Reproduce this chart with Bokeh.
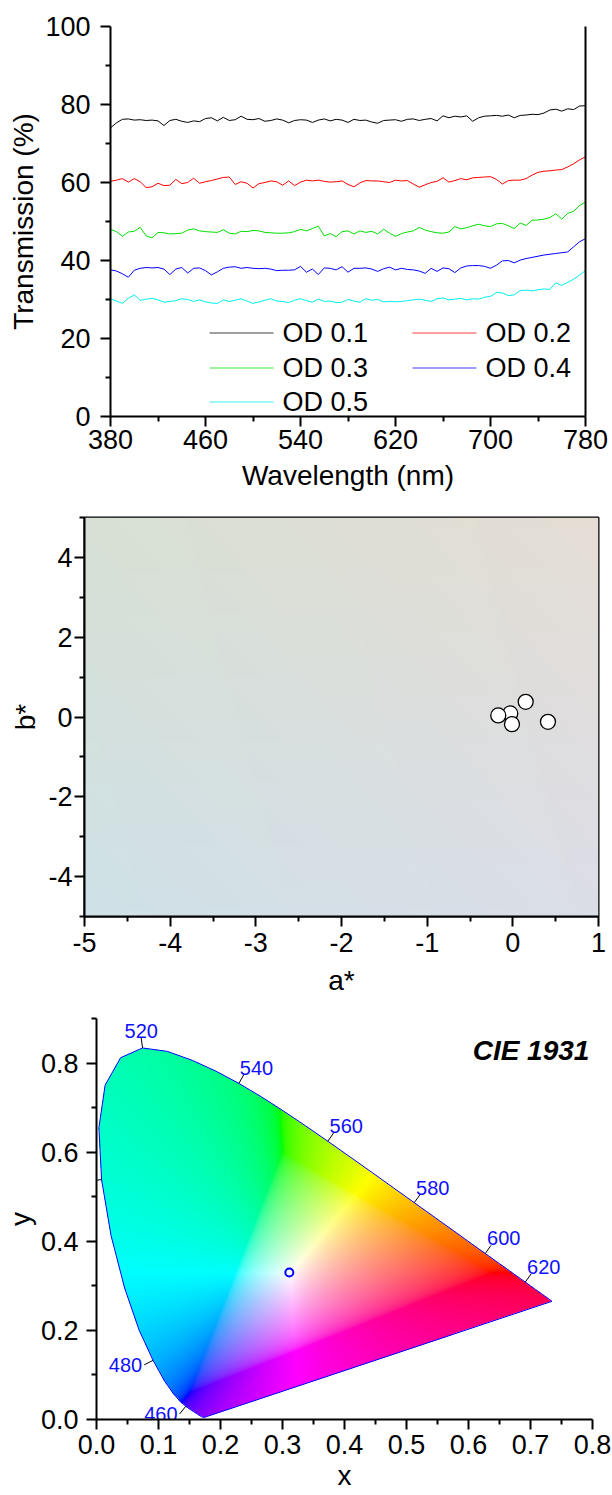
import numpy as np
from bokeh.plotting import figure
from bokeh.layouts import column
from bokeh.models import (FixedTicker, LinearAxis, Label, PrintfTickFormatter, ColumnDataSource)
from bokeh.embed import file_html
from bokeh.resources import INLINE

FONT = "Liberation Sans"

# ---------------- data: transmission spectra ----------------
wavelength = list(range(380, 785, 5))
od01 = [74.0, 75.3, 76.2, 76.3, 76.0, 76.1, 75.9, 76.0, 75.8, 74.6, 75.9, 76.2, 75.7, 75.4, 75.8, 75.6,
        76.4, 76.6, 75.8, 76.7, 75.9, 76.1, 77.0, 76.2, 76.1, 76.4, 75.7, 75.9, 76.3, 76.0, 75.3, 75.9,
        76.1, 76.0, 75.4, 76.0, 76.3, 75.8, 76.2, 76.0, 75.4, 76.2, 75.9, 76.0, 75.5, 75.2, 75.9, 76.0,
        76.1, 75.7, 76.2, 76.3, 75.9, 76.2, 76.4, 75.8, 77.1, 76.6, 77.0, 76.8, 77.1, 75.7, 76.6, 77.0,
        77.1, 77.2, 77.0, 77.3, 76.6, 77.2, 77.3, 77.5, 77.4, 77.8, 78.6, 78.8, 78.3, 78.9, 78.7, 79.6, 79.7]
od02 = [60.3, 60.6, 61.0, 60.1, 61.0, 60.2, 58.7, 58.9, 59.8, 59.2, 59.3, 60.8, 59.7, 60.0, 61.1, 59.8,
        60.2, 60.5, 60.9, 61.3, 61.4, 59.5, 60.2, 59.8, 58.6, 59.7, 60.0, 60.4, 60.2, 59.3, 60.4, 59.2,
        60.1, 60.6, 60.4, 60.6, 60.3, 60.1, 60.2, 60.4, 59.5, 58.9, 59.9, 60.5, 60.4, 60.4, 60.2, 60.0,
        60.6, 60.4, 60.5, 59.6, 58.8, 59.4, 60.0, 60.3, 61.2, 60.1, 60.5, 61.0, 60.7, 61.2, 61.3, 61.4,
        61.5, 60.8, 59.6, 60.5, 60.6, 60.6, 61.0, 61.9, 62.6, 62.9, 63.0, 63.2, 63.3, 64.0, 64.8, 65.8, 66.6]
od03 = [48.0, 47.4, 46.2, 47.3, 47.5, 48.5, 46.3, 45.8, 47.2, 47.1, 46.8, 46.9, 47.0, 47.8, 48.1, 47.6,
        47.4, 47.3, 47.2, 47.9, 47.0, 46.8, 47.5, 47.4, 47.7, 47.6, 47.2, 47.1, 47.0, 47.0, 47.1, 47.4,
        48.0, 47.6, 48.2, 48.8, 46.3, 46.9, 46.1, 47.4, 47.6, 46.8, 47.6, 47.2, 47.5, 46.8, 48.0, 47.0,
        46.2, 46.9, 47.3, 47.6, 48.5, 47.8, 47.4, 47.1, 47.0, 47.3, 48.7, 48.1, 48.4, 48.9, 49.3, 48.9,
        48.7, 49.4, 49.5, 48.9, 48.2, 49.6, 49.0, 50.3, 50.4, 50.6, 51.0, 52.0, 50.6, 52.1, 52.6, 54.1, 55.0]
od04 = [37.6, 37.3, 36.6, 35.7, 37.5, 38.0, 38.2, 38.1, 38.2, 37.8, 36.4, 37.8, 38.2, 36.8, 38.0, 38.1,
        37.4, 36.3, 37.1, 38.0, 38.3, 38.4, 38.0, 38.2, 38.0, 37.9, 38.0, 37.8, 37.4, 37.5, 37.5, 37.6,
        38.5, 37.0, 37.8, 36.4, 38.1, 38.0, 37.6, 38.4, 37.0, 38.0, 38.0, 38.1, 37.8, 37.2, 37.9, 38.3,
        37.6, 38.0, 37.7, 37.6, 37.3, 36.7, 38.0, 37.2, 38.1, 37.9, 36.9, 38.1, 38.6, 38.7, 38.7, 38.5,
        38.0, 38.8, 39.9, 40.0, 39.4, 40.1, 40.5, 40.8, 41.1, 41.4, 41.6, 41.8, 42.0, 42.2, 43.5, 44.8, 45.6]
od05 = [30.2, 29.6, 29.0, 30.3, 31.2, 29.8, 30.1, 30.3, 29.9, 29.3, 29.5, 29.7, 30.2, 30.0, 29.5, 29.9,
        29.4, 29.1, 29.0, 29.9, 29.5, 29.8, 30.2, 29.6, 29.0, 29.4, 29.8, 30.2, 29.6, 29.5, 29.2, 29.8,
        30.2, 29.7, 29.3, 30.1, 29.5, 29.6, 29.2, 29.3, 30.0, 29.6, 29.3, 30.2, 29.8, 30.0, 29.4, 29.5,
        29.4, 29.5, 29.7, 29.9, 30.1, 29.8, 29.5, 30.2, 30.4, 29.9, 30.1, 30.3, 29.9, 30.2, 30.1, 30.6,
        30.8, 31.8, 31.7, 31.0, 31.2, 32.3, 32.4, 32.2, 32.5, 32.7, 32.6, 34.3, 33.6, 34.4, 35.2, 36.3, 37.4]
series_names = ["OD 0.1", "OD 0.2", "OD 0.3", "OD 0.4", "OD 0.5"]
series_colors = ["#000000", "#ff0000", "#00e000", "#0000ff", "#00eeee"]
wl_ticks = [380, 460, 540, 620, 700, 780]
wl_minor = [420, 500, 580, 660, 740]
tr_ticks = [0, 20, 40, 60, 80, 100]
tr_minor = [10, 30, 50, 70, 90]

# ---------------- data: a*b* ----------------
a_star = [-0.03, -0.01, -0.17, 0.15, 0.41]
b_star = [0.09, -0.18, 0.04, 0.38, -0.12]
a_ticks = [-5, -4, -3, -2, -1, 0, 1]
a_minor = [-4.5, -3.5, -2.5, -1.5, -0.5, 0.5]
b_ticks = [-4, -2, 0, 2, 4]
b_minor = [-5, -3, -1, 1, 3, 5]

# ---------------- data: CIE 1931 ----------------
locus_nm = list(range(380, 705, 5))
locus_x = [0.1741, 0.1740, 0.1738, 0.1736, 0.1733, 0.1730, 0.1726, 0.1721, 0.1714, 0.1703, 0.1689,
           0.1669, 0.1644, 0.1611, 0.1566, 0.1510, 0.1440, 0.1355, 0.1241, 0.1096, 0.0913, 0.0687,
           0.0454, 0.0235, 0.0082, 0.0039, 0.0139, 0.0389, 0.0743, 0.1142, 0.1547, 0.1929, 0.2296,
           0.2658, 0.3016, 0.3373, 0.3731, 0.4087, 0.4441, 0.4788, 0.5125, 0.5448, 0.5752, 0.6029,
           0.6270, 0.6482, 0.6658, 0.6801, 0.6915, 0.7006, 0.7079, 0.7140, 0.7190, 0.7230, 0.7260,
           0.7283, 0.7300, 0.7311, 0.7320, 0.7327, 0.7334, 0.7340, 0.7344, 0.7346, 0.7347]
locus_y = [0.0050, 0.0050, 0.0049, 0.0049, 0.0048, 0.0048, 0.0048, 0.0048, 0.0051, 0.0058, 0.0069,
           0.0086, 0.0109, 0.0138, 0.0177, 0.0227, 0.0297, 0.0399, 0.0578, 0.0868, 0.1327, 0.2007,
           0.2950, 0.4127, 0.5384, 0.6548, 0.7502, 0.8120, 0.8338, 0.8262, 0.8059, 0.7816, 0.7543,
           0.7243, 0.6923, 0.6589, 0.6245, 0.5896, 0.5547, 0.5202, 0.4866, 0.4544, 0.4242, 0.3965,
           0.3725, 0.3514, 0.3340, 0.3197, 0.3083, 0.2993, 0.2920, 0.2859, 0.2809, 0.2770, 0.2740,
           0.2717, 0.2700, 0.2689, 0.2680, 0.2673, 0.2666, 0.2660, 0.2656, 0.2654, 0.2653]
label_nm = [460, 480, 500, 520, 540, 560, 580, 600, 620]
sample_x = [0.311]
sample_y = [0.330]
cx_ticks = [0.0, 0.1, 0.2, 0.3, 0.4, 0.5, 0.6, 0.7, 0.8]
cx_minor = [0.05, 0.15, 0.25, 0.35, 0.45, 0.55, 0.65, 0.75]
cy_ticks = [0.0, 0.2, 0.4, 0.6, 0.8]
cy_minor = [0.1, 0.3, 0.5, 0.7, 0.9]


def style_axis(ax, label_standoff=4, title_standoff=6):
    ax.axis_line_width = 2
    ax.axis_line_color = "black"
    ax.major_tick_line_width = 2
    ax.minor_tick_line_width = 2
    ax.major_tick_out = 10
    ax.major_tick_in = 0
    ax.minor_tick_out = 5
    ax.minor_tick_in = 0
    ax.major_label_text_font = FONT
    ax.major_label_text_font_size = "27px"
    ax.major_label_text_color = "black"
    ax.major_label_standoff = label_standoff
    ax.axis_label_text_font = FONT
    ax.axis_label_text_font_size = "28px"
    ax.axis_label_text_font_style = "normal"
    ax.axis_label_text_color = "black"
    ax.axis_label_standoff = title_standoff


def base_fig(**kw):
    p = figure(output_backend="svg", toolbar_location=None, **kw)
    p.frame_align = False
    p.xgrid.visible = False
    p.ygrid.visible = False
    p.background_fill_color = "white"
    p.border_fill_color = "white"
    p.outline_line_color = None
    return p


# ================= panel 1 =================
FX1, FW1, FY1, FH1 = 110, 475, 26, 390   # frame left, width, top, height (px)
p1 = base_fig(width=612, height=500, x_range=(380, 780), y_range=(0, 100),
              min_border_left=FX1, min_border_right=612 - FX1 - FW1,
              min_border_top=FY1, min_border_bottom=500 - FY1 - FH1)
series = [od01, od02, od03, od04, od05]
for s, c in zip(series, series_colors):
    p1.line(wavelength, s, line_color=c, line_width=1)
p1.xaxis.ticker = FixedTicker(ticks=wl_ticks, minor_ticks=wl_minor)
p1.yaxis.ticker = FixedTicker(ticks=tr_ticks, minor_ticks=tr_minor)
p1.xaxis.axis_label = "Wavelength (nm)"
p1.yaxis.axis_label = "Transmission (%)"
style_axis(p1.xaxis[0], 3, 8)
style_axis(p1.yaxis[0], 10, 3)
rax = LinearAxis(ticker=FixedTicker(ticks=[]), axis_line_width=2,
                 major_tick_line_color=None, minor_tick_line_color=None,
                 major_label_text_font_size="0px")
p1.add_layout(rax, "right")


# legend drawn by hand (two columns), laid out in pixels and mapped to data units
def px_to_nm(px):
    return 380 + (px - FX1) / FW1 * 400


def py_to_tr(py):
    return (FY1 + FH1 - py) / FH1 * 100


leg_cols = [209, 209, 209, 412, 412]  # glyph left edge per item, px
leg_rows = [332, 367, 401, 332, 367]  # row centre per item, px
leg_order = [0, 2, 4, 1, 3]
for k, idx in enumerate(leg_order):
    gx, gy = leg_cols[k], leg_rows[k]
    yv = py_to_tr(gy + 0.5)
    p1.line([px_to_nm(gx), px_to_nm(gx + 64)], [yv, yv], line_color=series_colors[idx],
            line_width=1.2, line_alpha=0.75)
    p1.add_layout(Label(x=px_to_nm(gx + 73), y=py_to_tr(gy), text=series_names[idx],
                        text_baseline="middle", text_align="left", text_font=FONT,
                        text_font_size="27px", text_color="black"))

# ================= panel 2 =================
p2 = base_fig(width=612, height=500, x_range=(-5, 1), y_range=(-5, 5),
              min_border_left=84, min_border_right=14, min_border_top=17, min_border_bottom=84)
p2.outline_line_color = "black"
p2.outline_line_width = 2

# Lab colour plane background (L* = 88.5)
nxa, nya = 150, 250
av = -5 + (np.arange(nxa) + 0.5) / nxa * 6
bv = -5 + (np.arange(nya) + 0.5) / nya * 10
A, B = np.meshgrid(av, bv)
Lval = 88.5
fy = (Lval + 16) / 116
fx = fy + A / 500
fz = fy - B / 200


def finv(t):
    return np.where(t ** 3 > 0.008856, t ** 3, (t - 16 / 116) / 7.787)


Xl = 0.95047 * finv(fx)
Yl = finv(np.full_like(A, fy))
Zl = 1.08883 * finv(fz)


def to_srgb(X, Y, Z):
    r = 3.2406 * X - 1.5372 * Y - 0.4986 * Z
    g = -0.9689 * X + 1.8758 * Y + 0.0415 * Z
    b = 0.0557 * X - 0.2040 * Y + 1.0570 * Z
    return np.stack([r, g, b], axis=-1)


def gamma(c):
    c = np.clip(c, 0, 1)
    return np.where(c > 0.0031308, 1.055 * np.power(c, 1 / 2.4) - 0.055, 12.92 * c)


def pack(rgb, alpha):
    ny, nx = rgb.shape[:2]
    img = np.empty((ny, nx), dtype=np.uint32)
    v = img.view(dtype=np.uint8).reshape((ny, nx, 4))
    v[..., 0] = (rgb[..., 0] * 255).astype(np.uint8)
    v[..., 1] = (rgb[..., 1] * 255).astype(np.uint8)
    v[..., 2] = (rgb[..., 2] * 255).astype(np.uint8)
    v[..., 3] = alpha
    return img


img2 = pack(gamma(to_srgb(Xl, Yl, Zl)), 255)
p2.image_rgba(image=[img2], x=-5, y=-5, dw=6, dh=10)

p2.scatter(a_star, b_star, size=15, fill_color="white", line_color="black", line_width=1.3)
p2.xaxis.ticker = FixedTicker(ticks=a_ticks, minor_ticks=a_minor)
p2.yaxis.ticker = FixedTicker(ticks=b_ticks, minor_ticks=b_minor)
p2.xaxis.formatter = PrintfTickFormatter(format="%d")
p2.yaxis.formatter = PrintfTickFormatter(format="%d")
p2.xaxis.axis_label = "a*"
p2.yaxis.axis_label = "b*"
style_axis(p2.xaxis[0], 6, 10)
style_axis(p2.yaxis[0], 2, 4)

# ================= panel 3 =================
FX3, FW3, FY3, FH3 = 96, 496, 18, 401
p3 = base_fig(width=612, height=495, x_range=(0, 0.8), y_range=(0, 0.9),
              min_border_left=FX3, min_border_right=612 - FX3 - FW3,
              min_border_top=FY3, min_border_bottom=495 - FY3 - FH3)

nx3, ny3 = FW3, FH3
xs = (np.arange(nx3) + 0.5) / nx3 * 0.8
ys = (np.arange(ny3) + 0.5) / ny3 * 0.9
GX, GY = np.meshgrid(xs, ys)
inside = np.zeros(GX.shape, dtype=bool)
lxa = np.array(locus_x)
lya = np.array(locus_y)
npts = len(lxa)
for i in range(npts):
    x1, y1 = lxa[i], lya[i]
    x2, y2 = lxa[(i + 1) % npts], lya[(i + 1) % npts]
    if y2 != y1:
        cond = (y1 > GY) != (y2 > GY)
        xint = (x2 - x1) * (GY - y1) / (y2 - y1) + x1
        inside ^= cond & (GX < xint)
Yc = np.maximum(GY, 1e-6)
rgb = to_srgb(GX / Yc, np.ones_like(GX), (1 - GX - GY) / Yc)
mn = rgb.min(axis=-1, keepdims=True)
rgb = rgb - np.minimum(mn, 0)
mx = np.maximum(rgb.max(axis=-1, keepdims=True), 1e-9)
rgb = gamma(rgb / mx)
img3 = pack(rgb, np.where(inside, 255, 0).astype(np.uint8))
p3.image_rgba(image=[img3], x=0, y=0, dw=0.8, dh=0.9)
p3.patch(locus_x, locus_y, fill_alpha=0, line_color="#0000ff", line_width=1)

# wavelength markers: leader lines along the outward normal of the locus
sx = FW3 / 0.8
sy = FH3 / 0.9
seg = dict(x0=[], y0=[], x1=[], y1=[])
lab = dict(x=[], y=[], text=[], align=[], base=[])
for w in label_nm:
    i = locus_nm.index(w)
    tdx = (locus_x[i + 1] - locus_x[i - 1]) * sx
    tdy = (locus_y[i + 1] - locus_y[i - 1]) * sy
    ln = np.hypot(tdx, tdy)
    nxp, nyp = -tdy / ln, tdx / ln
    x0, y0 = locus_x[i], locus_y[i]
    x1, y1 = x0 + nxp * 10 / sx, y0 + nyp * 10 / sy
    seg["x0"].append(x0); seg["y0"].append(y0); seg["x1"].append(x1); seg["y1"].append(y1)
    if nxp < -0.3:
        lab["x"].append(x1 - 2 / sx); lab["y"].append(y1); lab["align"].append("right"); lab["base"].append("middle")
    elif nxp > 0.3:
        lab["x"].append(x1 - 4 / sx); lab["y"].append(y1); lab["align"].append("left"); lab["base"].append("bottom")
    else:
        lab["x"].append(x1); lab["y"].append(y1); lab["align"].append("center"); lab["base"].append("bottom")
    lab["text"].append(str(w))
p3.segment(x0="x0", y0="y0", x1="x1", y1="y1", source=ColumnDataSource(seg), line_color="black", line_width=1)
p3.text(x="x", y="y", text="text", text_align="align", text_baseline="base",
        source=ColumnDataSource(lab), text_color="#1010ff", text_font_size="20px",
        text_font={"value": FONT})

p3.scatter(sample_x, sample_y, size=8, fill_color=None, line_color="#0000ff", line_width=2)
p3.add_layout(Label(x=0.795, y=0.828, text="CIE 1931", text_align="right", text_baseline="middle",
                    text_font=FONT, text_font_size="28px", text_font_style="bold italic",
                    text_color="black"))

p3.xaxis.ticker = FixedTicker(ticks=cx_ticks, minor_ticks=cx_minor)
p3.yaxis.ticker = FixedTicker(ticks=cy_ticks, minor_ticks=cy_minor)
p3.xaxis.formatter = PrintfTickFormatter(format="%.1f")
p3.yaxis.formatter = PrintfTickFormatter(format="%.1f")
p3.xaxis.axis_label = "x"
p3.yaxis.axis_label = "y"
style_axis(p3.xaxis[0], 5, 3)
style_axis(p3.yaxis[0], 8, 2)

layout = column(p1, p2, p3, spacing=0)
open("out.html", "w").write(file_html(layout, INLINE))
